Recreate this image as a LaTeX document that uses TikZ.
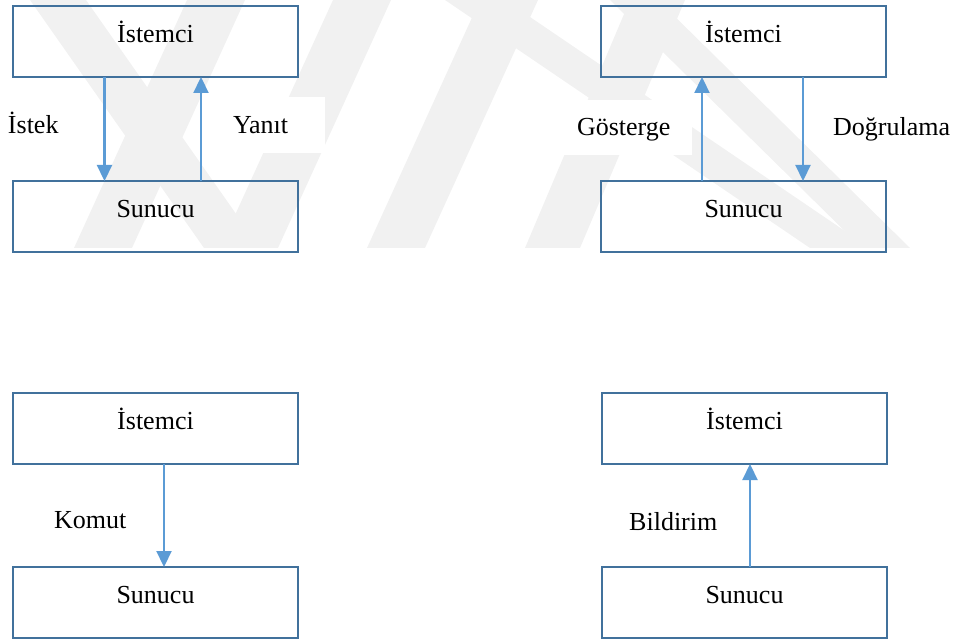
\documentclass[tikz,border=0pt]{standalone}
\usepackage{fontspec}
\setmainfont{Liberation Serif}
\usetikzlibrary{arrows.meta}

\definecolor{boxline}{RGB}{65,113,156}
\definecolor{arrowblue}{RGB}{91,155,213}
\definecolor{wmgray}{RGB}{241,241,241}

\tikzset{
  box/.style={draw=boxline, line width=2.4pt, minimum width=285pt, inner sep=0pt,
    outer sep=0pt, text height=36.5pt, text depth=34.5pt, anchor=north west},
  arr/.style={draw=arrowblue, line width=2.2pt,
    -{Triangle[length=16pt,width=15pt]}},
  lbl/.style={fill=white, inner sep=0pt, outer sep=0pt, anchor=north west},
  plainlbl/.style={inner sep=0pt, anchor=base west},
  wm/.style={fill=wmgray}
}

\begin{document}
\begin{tikzpicture}[x=1pt, y=-1pt, font=\fontsize{26}{31}\selectfont]
\useasboundingbox (0,0) rectangle (959,639);

% faint striped emblem behind the upper row
\begin{scope}
  \clip (0,0) rectangle (959,248);
  % rising stripes
  \fill[wm] (187,0) -- (245,0) -- (132,248) -- (74,248) -- cycle;
  \fill[wm] (333,0) -- (391,0) -- (278,248) -- (220,248) -- cycle;
  \fill[wm] (480,0) -- (538,0) -- (425,248) -- (367,248) -- cycle;
  \fill[wm] (630,0) -- (685,0) -- (580,248) -- (525,248) -- cycle;
  % falling stripes
  \fill[wm] (30,0) -- (86,0) -- (260,248) -- (204,248) -- cycle;
  \fill[wm] (445,0) -- (505,0) -- (870,248) -- (810,248) -- cycle;
  \fill[wm] (610,0) -- (658,0) -- (910,248) -- (862,248) -- cycle;
\end{scope}

% request / response
\node[box] (c1) at (13,6) {İstemci};
\node[box] (s1) at (13,181) {Sunucu};
\node[lbl, text height=37pt, text depth=19pt] (l1) at (0,97)
  {\makebox[88pt][l]{\hspace{8pt}İstek}};
\node[lbl, text height=37pt, text depth=19pt] (l2) at (211,97)
  {\makebox[114pt][l]{\hspace{22pt}Yanıt}};
\draw[arr] (c1.south -| 104.5,0) -- (s1.north -| 104.5,0);
\draw[arr] (s1.north -| 201,0) -- (c1.south -| 201,0);

% indication / confirmation
\node[box] (c2) at (601,6) {İstemci};
\node[box] (s2) at (601,181) {Sunucu};
\node[lbl, text height=36pt, text depth=19pt] (l3) at (555,100)
  {\makebox[137pt][l]{\hspace{22pt}Gösterge}};
\node[plainlbl] (l4) at (833,136) {Doğrulama};
\draw[arr] (s2.north -| 702,0) -- (c2.south -| 702,0);
\draw[arr] (c2.south -| 803,0) -- (s2.north -| 803,0);

% command
\node[box] (c3) at (13,393) {İstemci};
\node[box] (s3) at (13,567) {Sunucu};
\node[plainlbl] (l5) at (54,528) {Komut};
\draw[arr] (c3.south -| 164,0) -- (s3.north -| 164,0);

% notification
\node[box] (c4) at (602,393) {İstemci};
\node[box] (s4) at (602,567) {Sunucu};
\node[plainlbl] (l6) at (629,530) {Bildirim};
\draw[arr] (s4.north -| 750,0) -- (c4.south -| 750,0);
\end{tikzpicture}
\end{document}
